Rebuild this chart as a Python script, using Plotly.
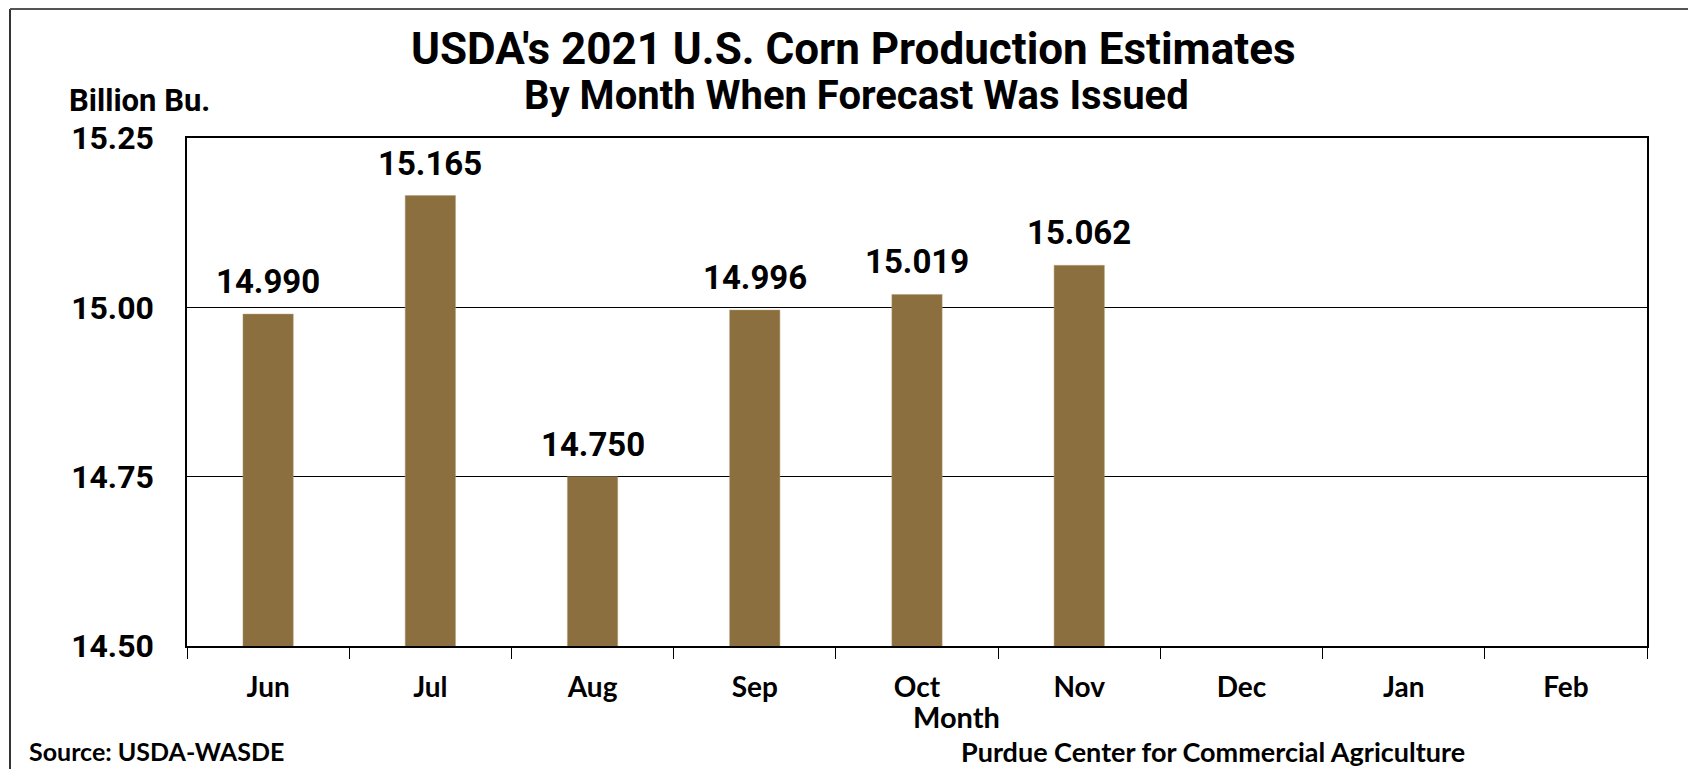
import plotly.graph_objects as go

months = ["Jun", "Jul", "Aug", "Sep", "Oct", "Nov", "Dec", "Jan", "Feb"]
production = [14.990, 15.165, 14.750, 14.996, 15.019, 15.062, None, None, None]
y_ticks = [14.50, 14.75, 15.00, 15.25]

W, H = 1696, 769
OFF = 8  # page body margin
L, T = 187 - OFF, 138 - OFF
pw, ph = 1460, 508
R, B = W - L - pw, H - T - ph


def px_x(x):
    return (x - OFF - L) / pw


def px_y(y):
    return (T + ph - (y - OFF)) / ph


bar_color = "#8B6F3F"
title_font = "Roboto, Liberation Sans, Arial, sans-serif"
label_font = "Lato, Open Sans, sans-serif"

fig = go.Figure()
fig.add_trace(go.Bar(
    x=months, y=production,
    marker=dict(color=bar_color, line=dict(color="#b09a70", width=0.5)),
    hoverinfo="x+y",
))

for m, v in zip(months, production):
    if v is None:
        continue
    fig.add_annotation(
        x=m, y=v, text=f"<b>{v:.3f}</b>", showarrow=False,
        yanchor="bottom", yshift=11,
        font=dict(family=title_font, size=33, color="black"),
    )

fig.update_layout(
    width=W, height=H,
    margin=dict(l=L, r=R, t=T, b=B),
    paper_bgcolor="white", plot_bgcolor="white",
    bargap=0.69, showlegend=False,
)
fig.update_xaxes(
    type="category", showgrid=False,
    showline=True, linecolor="black", linewidth=1.5, mirror=True,
    ticks="outside", tickson="boundaries", ticklen=11, tickcolor="black", tickwidth=1,
    tickfont=dict(family=label_font, size=28, color="black", weight="bold"),
    ticklabelstandoff=16,
)
fig.update_yaxes(
    range=[14.50, 15.25], tickvals=y_ticks,
    ticktext=[f"<b>{t:.2f}</b>" for t in y_ticks],
    showgrid=True, gridcolor="black", gridwidth=1,
    showline=True, linecolor="black", linewidth=1.5, mirror=True,
    zeroline=False, ticks="",
    tickfont=dict(family=title_font, size=32, color="black"),
    ticklabelstandoff=25,
)

# titles
fig.add_annotation(
    xref="paper", yref="paper", x=px_x(853), y=px_y(49),
    text="<b>USDA's 2021 U.S. Corn Production Estimates</b>", showarrow=False,
    xanchor="center", yanchor="middle",
    font=dict(family=title_font, size=44, color="black"),
)
fig.add_annotation(
    xref="paper", yref="paper", x=px_x(856), y=px_y(96),
    text="<b>By Month When Forecast Was Issued</b>", showarrow=False,
    xanchor="center", yanchor="middle",
    font=dict(family=title_font, size=40, color="black"),
)
fig.add_annotation(
    xref="paper", yref="paper", x=px_x(67), y=px_y(101),
    text="<b>Billion Bu.</b>", showarrow=False,
    xanchor="left", yanchor="middle",
    font=dict(family=title_font, size=31, color="black"),
)
fig.add_annotation(
    xref="paper", yref="paper", x=px_x(956), y=px_y(716),
    text="<b>Month</b>", showarrow=False,
    xanchor="center", yanchor="middle",
    font=dict(family=label_font, size=29, color="black"),
)
fig.add_annotation(
    xref="paper", yref="paper", x=px_x(27), y=px_y(751),
    text="<b>Source: USDA-WASDE</b>", showarrow=False,
    xanchor="left", yanchor="middle",
    font=dict(family=label_font, size=25, color="black"),
)
fig.add_annotation(
    xref="paper", yref="paper", x=px_x(1213), y=px_y(751),
    text="<b>Purdue Center for Commercial Agriculture</b>", showarrow=False,
    xanchor="center", yanchor="middle",
    font=dict(family=label_font, size=27, color="black"),
)

# outer frame (left and top edges)
fig.add_shape(type="line", xref="paper", yref="paper",
              x0=px_x(10), x1=px_x(10), y0=px_y(H + OFF), y1=px_y(OFF + 1),
              line=dict(color="#333333", width=2))
fig.add_shape(type="line", xref="paper", yref="paper",
              x0=px_x(10), x1=px_x(W + OFF), y0=px_y(OFF + 1), y1=px_y(OFF + 1),
              line=dict(color="#555555", width=2))

fig.write_html("out.html")
